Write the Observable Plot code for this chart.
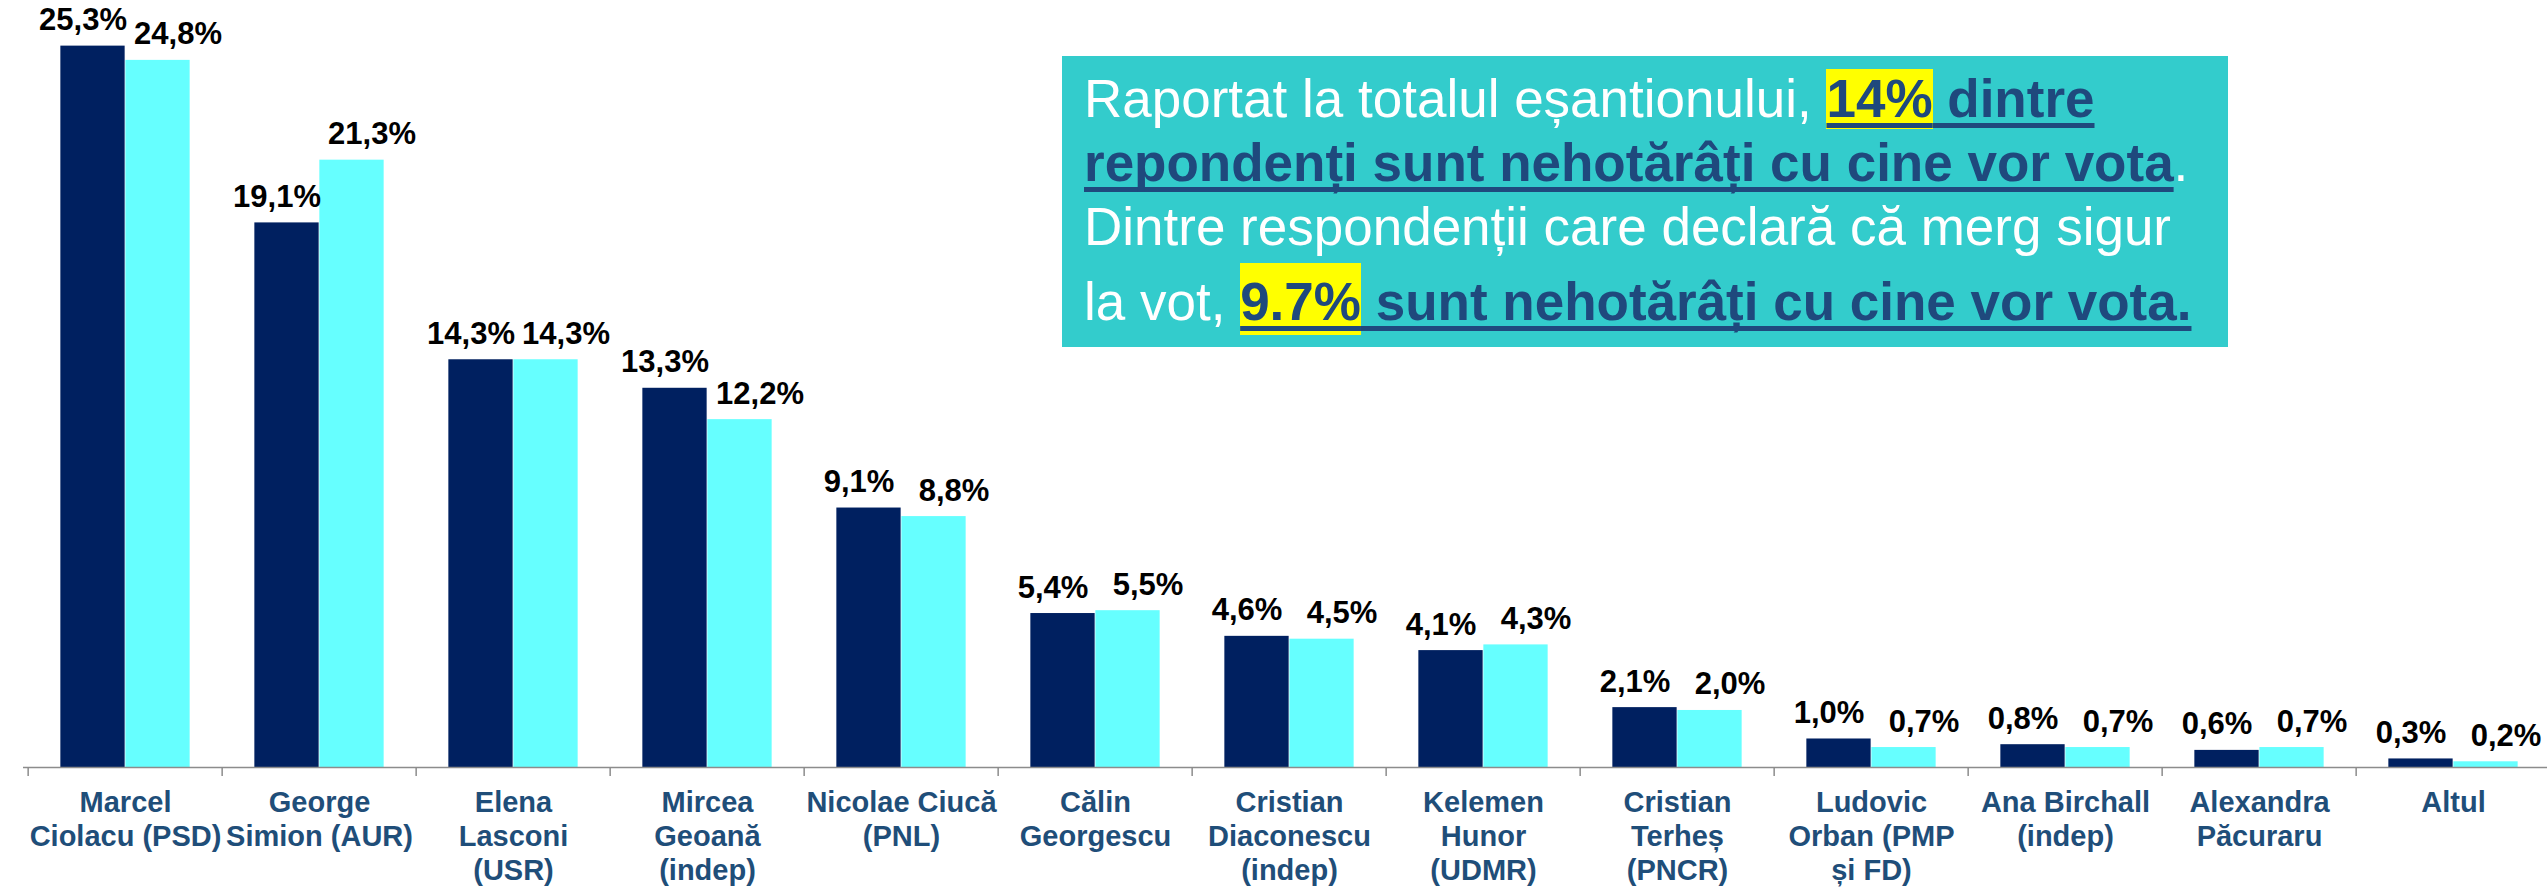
<!DOCTYPE html>
<html>
<head>
<meta charset="utf-8">
<script src="https://cdn.jsdelivr.net/npm/d3@7"></script>
<script src="https://cdn.jsdelivr.net/npm/@observablehq/plot@0.6"></script>
<style>
  body { margin: 0; background: #fff; }
  #wrap { position: relative; width: 2547px; height: 887px; overflow: hidden; font-family: "Liberation Sans", Arial, sans-serif; }
  #chart { position: absolute; left: 0; top: 0; }
  #box { position: absolute; left: 1062px; top: 56px; width: 1166px; height: 291px; background: #33CCCC; }
  .ln { position: absolute; left: 22px; font-size: 53px; line-height: 53px; white-space: nowrap; color: #fff; }
  .b { font-weight: bold; color: #1F497D; text-decoration: underline; text-decoration-color: #1F497D;
       text-decoration-thickness: 5px; text-underline-offset: 6px; text-decoration-skip-ink: none; }
  .hl { background: #FFFF00; padding-bottom: 1.5px; }
  .hl2 { padding-top: 9px; padding-bottom: 4px; }
</style>
</head>
<body>
<div id="wrap">
  <div id="chart"></div>
  <div id="box">
    <div class="ln" style="top:15.8px">Raportat la totalul eșantionului, <span class="b"><span class="hl">14%</span> dintre</span></div>
    <div class="ln" style="top:79.8px"><span class="b">repondenți sunt nehotărâți cu cine vor vota</span>.</div>
    <div class="ln" style="top:144.1px">Dintre respondenții care declară că merg sigur</div>
    <div class="ln" style="top:219.1px">la vot, <span class="b"><span class="hl hl2">9.7%</span> sunt nehotărâți cu cine vor vota.</span></div>
  </div>
</div>
<script>
const categories = [
  "Marcel Ciolacu (PSD)", "George Simion (AUR)", "Elena Lasconi (USR)", "Mircea Geoană (indep)",
  "Nicolae Ciucă (PNL)", "Călin Georgescu", "Cristian Diaconescu (indep)", "Kelemen Hunor (UDMR)",
  "Cristian Terheș (PNCR)", "Ludovic Orban (PMP și FD)", "Ana Birchall (indep)", "Alexandra Păcuraru", "Altul"
];
const tickLabels = [
  "Marcel\nCiolacu (PSD)", "George\nSimion (AUR)", "Elena\nLasconi\n(USR)", "Mircea\nGeoană\n(indep)",
  "Nicolae Ciucă\n(PNL)", "Călin\nGeorgescu", "Cristian\nDiaconescu\n(indep)", "Kelemen\nHunor\n(UDMR)",
  "Cristian\nTerheș\n(PNCR)", "Ludovic\nOrban (PMP\nși FD)", "Ana Birchall\n(indep)", "Alexandra\nPăcuraru", "Altul"
];
const serie1 = [25.3, 19.1, 14.3, 13.3, 9.1, 5.4, 4.6, 4.1, 2.1, 1.0, 0.8, 0.6, 0.3];
const serie2 = [24.8, 21.3, 14.3, 12.2, 8.8, 5.5, 4.5, 4.3, 2.0, 0.7, 0.7, 0.7, 0.2];

const data1 = categories.map((c, i) => ({cat: c, v: serie1[i]}));
const data2 = categories.map((c, i) => ({cat: c, v: serie2[i]}));
const labelData = categories.map((c, i) => ({cat: c, label: tickLabels[i]}));
const fmt = v => v.toFixed(1).replace(".", ",") + "%";

const W = 2547, H = 887;
const xRange = [23.3, 2554.4];
const bw = (xRange[1] - xRange[0]) / categories.length;
const barW = 65;
const font = "Liberation Sans, Arial, sans-serif";

const chart = Plot.plot({
  width: W,
  height: H,
  marginTop: 0,
  marginBottom: 120,
  marginLeft: 23,
  marginRight: 0,
  style: {fontFamily: font, background: "transparent", overflow: "visible"},
  x: {type: "band", domain: categories, range: xRange, padding: 0, axis: null},
  y: {domain: [0, 26.9], axis: null},
  marks: [
    Plot.barY(data1, {x: "cat", y: "v", fill: "#002060", insetLeft: bw / 2 - barW, insetRight: bw / 2}),
    Plot.barY(data2, {x: "cat", y: "v", fill: "#66FFFF", insetLeft: bw / 2, insetRight: bw / 2 - barW}),
    Plot.ruleY([0], {stroke: "#8c8c8c", strokeWidth: 1.5}),
    Plot.ruleX(categories, {x: d => d, y1: d => 0, y2: d => 0, insetTop: 0, insetBottom: -9, dx: -bw / 2, stroke: "#8c8c8c", strokeWidth: 1.5}),
    Plot.text(data1, {x: "cat", y: "v", text: d => fmt(d.v), dx: -barW / 2 - 10, dy: -16, lineAnchor: "bottom",
      fontSize: 31, fontWeight: "bold", fill: "#000", fontFamily: font}),
    Plot.text(data2, {x: "cat", y: "v", text: d => fmt(d.v), dx: barW / 2 + 20, dy: -16, lineAnchor: "bottom",
      fontSize: 31, fontWeight: "bold", fill: "#000", fontFamily: font}),
    Plot.text(labelData, {x: "cat", y: d => 0, text: "label", lineAnchor: "top", lineHeight: 34 / 29, dy: 20.6,
      fontSize: 29, fontWeight: "bold", fill: "#1F4E79", fontFamily: font})
  ]
});
document.getElementById("chart").appendChild(chart);
</script>
</body>
</html>
